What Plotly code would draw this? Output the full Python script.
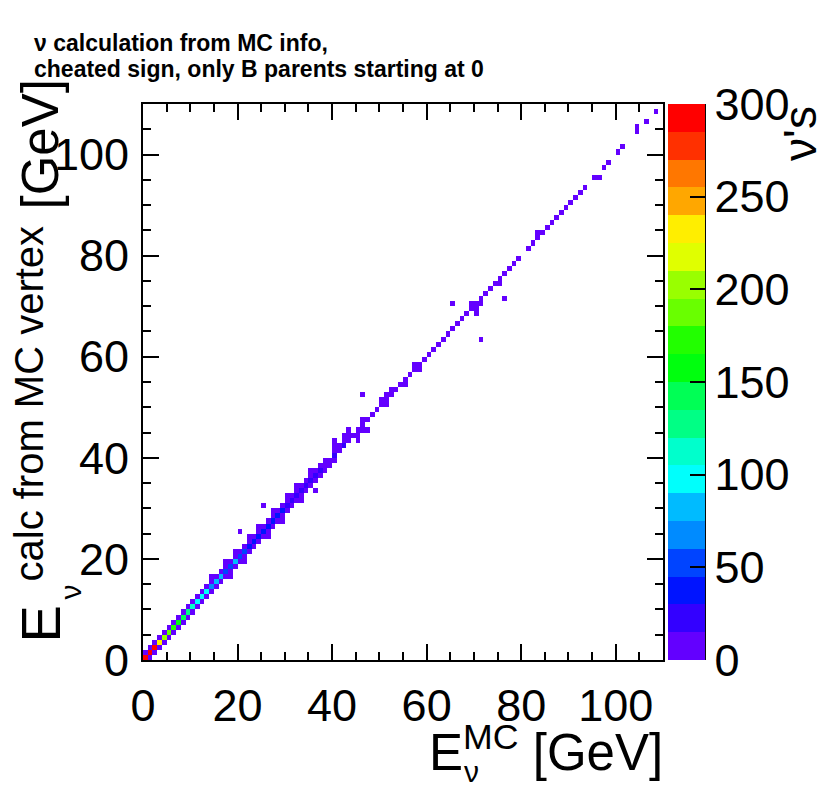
import colorsys
import plotly.graph_objects as go

# ---------------- data ----------------
n_bins = 110          # 1 GeV bins, 0..110 GeV on both axes
axis_max = 110

# counts on the diagonal cell (i, i)
diag_counts = [
    290, 296, 289, 236, 207, 193, 176, 161, 147, 129,
    116, 101, 96, 92, 74, 88, 79, 58, 52, 80,
    50, 46, 44, 38, 40, 35, 33, 36, 31, 32,
    27, 24, 29, 22, 20, 26, 18, 17, 14, 13,
    17, 12, 16, 10, 14, 8, 9, 7, 8, 6,
    7, 5, 6, 4, 5, 4, 4, 3, 3, 3,
    2, 3, 2, 2, 2, 2, 2, 2, 1, 2,
    2, 1, 1, 1, 1, 1, 1, 1, 1, 1,
    0, 1, 1, 1, 1, 1, 1, 1, 1, 1,
    1, 1, 1, 1, 0, 1, 0, 1, 1, 0,
    1, 1, 0, 0, 1, 0, 1, 0, 1, 0,
]

# counts in the cell just above the diagonal (i, i+1)
above_counts = [
    9, 11, 10, 8, 7, 9, 8, 6, 7, 5,
    6, 7, 5, 8, 7, 11, 9, 8, 6, 9,
    7, 8, 6, 7, 5, 8, 4, 6, 5, 7,
    4, 5, 6, 4, 3, 5, 2, 4, 3, 0,
    3, 2, 3, 2, 0, 0, 1, 0, 0, 0,
    1, 1, 1, 0, 0, 0, 0, 1, 0, 0,
    0, 0, 0, 0, 0, 0, 0, 0, 0, 1,
    0, 0, 0, 0, 0, 0, 0, 0, 0, 0,
    0, 0, 0, 1, 0, 0, 0, 0, 0, 0,
    0, 0, 0, 0, 0, 0, 0, 0, 0, 0,
    0, 0, 0, 0, 1, 0, 0, 0, 0, 0,
]

# counts in the cell just below the diagonal (i+1, i)
below_counts = [
    8, 10, 9, 7, 8, 6, 7, 5, 6, 6,
    5, 4, 6, 5, 6, 9, 8, 5, 7, 6,
    5, 7, 4, 6, 5, 3, 6, 4, 5, 3,
    4, 5, 3, 2, 4, 3, 2, 3, 2, 1,
    0, 0, 0, 0, 2, 1, 0, 0, 0, 0,
    1, 0, 0, 0, 1, 0, 0, 1, 0, 0,
    0, 0, 0, 0, 0, 0, 0, 0, 0, 1,
    1, 0, 0, 0, 1, 0, 0, 0, 0, 0,
    0, 0, 0, 0, 0, 0, 0, 0, 0, 0,
    0, 0, 0, 0, 0, 1, 0, 0, 0, 0,
    0, 0, 0, 0, 0, 0, 0, 0, 0, 0,
]

# further isolated cells: (E_MC bin, E_calc bin, count)
extra_x = [14, 17, 19, 22, 24, 27, 30, 32, 35, 40, 40, 42, 43,
           18, 21, 26, 29, 33, 45,
           20, 25, 36, 46, 47, 65, 71, 76, 70]
extra_y = [16, 19, 21, 24, 26, 29, 32, 34, 37, 42, 43, 44, 45,
           16, 19, 24, 27, 31, 43,
           25, 30, 33, 52, 45, 70, 63, 71, 68]
extra_n = [4, 3, 2, 2, 3, 2, 2, 2, 1, 2, 1, 1, 1,
           2, 1, 1, 2, 1, 1,
           1, 1, 1, 1, 1, 1, 1, 1, 1]

z_min, z_max = 0, 300
n_contours = 20
x_ticks = [0, 20, 40, 60, 80, 100]
z_ticks = [0, 50, 100, 150, 200, 250, 300]

# ---------------- build histogram matrix ----------------
z = [[None] * n_bins for _ in range(n_bins)]


def put(i, j, n):
    if n > 0 and 0 <= i < n_bins and 0 <= j < n_bins:
        z[j][i] = n


for i, n in enumerate(diag_counts):
    put(i, i, n)
for i, n in enumerate(above_counts):
    put(i, i + 1, n)
for i, n in enumerate(below_counts):
    put(i + 1, i, n)
for i, j, n in zip(extra_x, extra_y, extra_n):
    put(i, j, n)

centers = [k + 0.5 for k in range(n_bins)]

# ---------------- ROOT "pretty palette" with 20 contours ----------------
def root_color(j):
    idx = int((j + 0.99) * 50 / n_contours)
    hue = 0.0 if idx >= 49 else 280 - (idx + 1) * 5.6
    r, g, b = colorsys.hls_to_rgb(hue / 360.0, 0.5, 1.0)
    return "rgb(%d,%d,%d)" % (round(r * 255), round(g * 255), round(b * 255))


colorscale = []
for j in range(n_contours):
    c = root_color(j)
    colorscale.append([j / n_contours, c])
    colorscale.append([(j + 1) / n_contours, c])

# ---------------- layout geometry (page pixels) ----------------
W, H = 830, 806
OFF = 8                      # default body margin of the html page
L, R, T, B = 142.6, 663.0, 104.0, 660.0
FONT = "Liberation Sans, Arial, Helvetica, sans-serif"


def px(xp):
    return (xp - L) / (R - L)


def py(yp):
    return (B - yp) / (B - T)


fig = go.Figure()
fig.add_trace(go.Heatmap(
    x=centers, y=centers, z=z,
    zmin=z_min, zmax=z_max,
    colorscale=colorscale,
    hoverongaps=False,
    colorbar=dict(
        x=px(668), xanchor="left", xpad=0,
        y=0.5, yanchor="middle", ypad=0,
        len=1.0, lenmode="fraction",
        thickness=37, thicknessmode="pixels",
        outlinewidth=0,
        tickmode="array", tickvals=z_ticks,
        ticks="inside", ticklen=15, tickwidth=2, tickcolor="black",
        tickfont=dict(family=FONT, size=45, color="black"),
    ),
))

axis_common = dict(
    range=[0, axis_max],
    tickmode="array", tickvals=x_ticks,
    ticks="inside", ticklen=16, tickwidth=2, tickcolor="black",
    minor=dict(ticks="inside", ticklen=8, tickwidth=2, tickcolor="black",
               dtick=5, tick0=0, showgrid=False),
    showline=True, linewidth=2, linecolor="black", mirror="ticks",
    showgrid=False, zeroline=False,
    tickfont=dict(family=FONT, size=45, color="black"),
)

fig.update_layout(
    width=W - OFF, height=H - OFF,
    margin=dict(l=L - OFF, r=W - R, t=T - OFF, b=H - B, autoexpand=False),
    paper_bgcolor="white", plot_bgcolor="white",
    xaxis=dict(axis_common, ticklabelstandoff=5),
    yaxis=dict(axis_common, ticklabelstandoff=3),
    showlegend=False,
)

annotations = [
    dict(text="<b>ν calculation from MC info,</b>", x=px(33), y=py(43),
         xanchor="left", yanchor="middle", font=dict(size=23)),
    dict(text="<b>cheated sign, only B parents starting at 0</b>", x=px(33), y=py(69),
         xanchor="left", yanchor="middle", font=dict(size=23)),
    # x axis title
    dict(text="E<sup>MC</sup> [GeV]", x=px(664), y=py(749),
         xanchor="right", yanchor="middle", font=dict(size=51)),
    dict(text="ν", x=px(463), y=py(771),
         xanchor="left", yanchor="middle", font=dict(size=30)),
    # y axis title (rotated pieces)
    dict(text="[GeV]", x=px(40), y=py(144),
         xanchor="center", yanchor="middle", textangle=-90, font=dict(size=51)),
    dict(text="calc from MC vertex", x=px(29), y=py(403),
         xanchor="center", yanchor="middle", textangle=-90, font=dict(size=40)),
    dict(text="E", x=px(40), y=py(624),
         xanchor="center", yanchor="middle", textangle=-90, font=dict(size=56)),
    dict(text="ν", x=px(70), y=py(592),
         xanchor="center", yanchor="middle", textangle=-90, font=dict(size=30)),
    # colour bar title
    dict(text="ν's", x=px(800), y=py(133),
         xanchor="center", yanchor="middle", textangle=-90, font=dict(size=46)),
]
for a in annotations:
    a.update(xref="paper", yref="paper", showarrow=False, borderpad=0)
    a["font"] = dict(a["font"], family=FONT, color="black")
fig.update_layout(annotations=annotations)

# right edge line of the colour bar
fig.add_shape(type="line", xref="paper", yref="paper",
              x0=px(705), x1=px(705), y0=0, y1=1,
              line=dict(color="black", width=2))

fig.write_html("out.html")
